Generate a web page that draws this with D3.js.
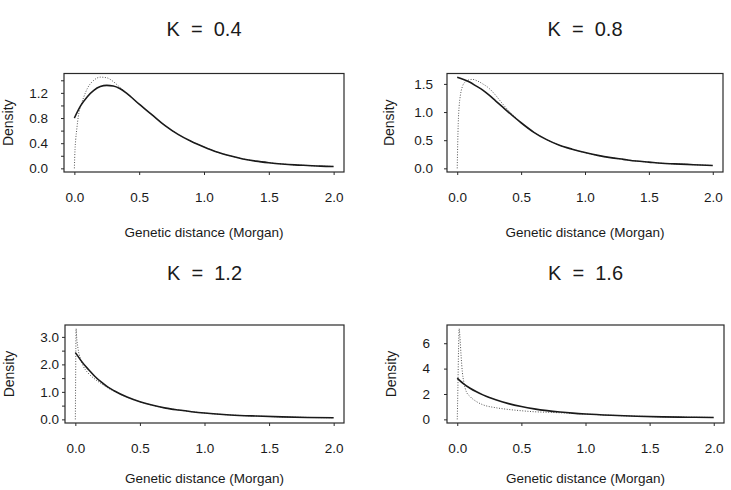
<!DOCTYPE html>
<html>
<head>
<meta charset="utf-8">
<script src="https://cdn.jsdelivr.net/npm/d3@7"></script>
<style>
	body { margin: 0; background: #fff; }
	svg { display: block; font-family: "Liberation Sans", Arial, Helvetica, sans-serif; }
	.tick text { font-size: 13.5px; fill: #1a1a1a; }
	.tick line { stroke: #2a2a2a; }
</style>
</head>
<body>
<svg id="chart" width="731" height="490"></svg>
<script>

// panel titles
var kLabels = ['0.4', '0.8', '1.2', '1.6'];

// shared x ticks (Morgan)
var xTicks = [0, 0.5, 1.0, 1.5, 2.0];

// K = 0.4
var solidX1 = [0, 0.05, 0.1, 0.15, 0.2, 0.25, 0.3, 0.35, 0.4, 0.5, 0.6, 0.7, 0.8, 0.9, 1.0, 1.1, 1.2, 1.3, 1.4, 1.5, 1.6, 1.7, 1.8, 1.9, 2.0];
var solidY1 = [0.80, 1.00, 1.14, 1.24, 1.30, 1.32, 1.31, 1.27, 1.20, 1.02, 0.85, 0.68, 0.54, 0.43, 0.34, 0.26, 0.20, 0.15, 0.115, 0.09, 0.07, 0.055, 0.045, 0.035, 0.03];
var dotX1 = [0, 0.005, 0.01, 0.02, 0.03, 0.04, 0.05, 0.07, 0.1, 0.15, 0.2, 0.25, 0.3, 0.35, 0.4, 0.45, 0.5, 0.6, 0.7, 0.8, 0.9, 1.0, 1.1, 1.2, 1.3, 1.4, 1.5, 1.6, 1.7, 1.8, 1.9, 2.0];
var dotY1 = [0, 0.30, 0.45, 0.65, 0.82, 0.93, 1.00, 1.12, 1.27, 1.40, 1.45, 1.44, 1.38, 1.29, 1.20, 1.11, 1.02, 0.85, 0.68, 0.54, 0.43, 0.34, 0.26, 0.20, 0.15, 0.115, 0.09, 0.07, 0.055, 0.045, 0.035, 0.03];
var yTicks1 = [0, 0.2, 0.4, 0.6, 0.8, 1.0, 1.2, 1.4];
var yLabels1 = [0, 0.4, 0.8, 1.2];

// K = 0.8
var solidX2 = [0, 0.05, 0.1, 0.15, 0.2, 0.25, 0.3, 0.35, 0.4, 0.5, 0.6, 0.7, 0.8, 0.9, 1.0, 1.1, 1.2, 1.3, 1.4, 1.5, 1.6, 1.7, 1.8, 1.9, 2.0];
var solidY2 = [1.62, 1.58, 1.53, 1.46, 1.39, 1.30, 1.20, 1.10, 1.00, 0.81, 0.64, 0.51, 0.41, 0.34, 0.28, 0.23, 0.19, 0.16, 0.13, 0.11, 0.09, 0.08, 0.07, 0.06, 0.05];
var dotX2 = [0, 0.004, 0.008, 0.015, 0.025, 0.04, 0.06, 0.09, 0.12, 0.16, 0.2, 0.25, 0.3, 0.35, 0.4, 0.45, 0.5, 0.6, 0.7, 0.8, 0.9, 1.0, 1.1, 1.2, 1.3, 1.4, 1.5, 1.6, 1.7, 1.8, 1.9, 2.0];
var dotY2 = [0, 0.45, 0.80, 1.10, 1.30, 1.45, 1.53, 1.57, 1.58, 1.55, 1.50, 1.42, 1.30, 1.16, 1.03, 0.92, 0.81, 0.64, 0.51, 0.41, 0.34, 0.28, 0.23, 0.19, 0.16, 0.13, 0.11, 0.09, 0.08, 0.07, 0.06, 0.05];
var yTicks2 = [0, 0.5, 1.0, 1.5];
var yLabels2 = [0, 0.5, 1.0, 1.5];

// K = 1.2
var solidX3 = [0, 0.02, 0.05, 0.1, 0.15, 0.2, 0.25, 0.3, 0.4, 0.5, 0.6, 0.7, 0.8, 0.9, 1.0, 1.2, 1.4, 1.6, 1.8, 2.0];
var solidY3 = [2.43, 2.30, 2.10, 1.82, 1.57, 1.36, 1.18, 1.04, 0.81, 0.64, 0.51, 0.41, 0.34, 0.28, 0.23, 0.16, 0.12, 0.09, 0.07, 0.06];
var dotX3 = [0, 0.002, 0.004, 0.006, 0.01, 0.02, 0.04, 0.06, 0.1, 0.15, 0.2, 0.25, 0.3, 0.4, 0.5, 0.6, 0.7, 0.8, 0.9, 1.0, 1.2, 1.4, 1.6, 1.8, 2.0];
var dotY3 = [0, 1.20, 2.60, 3.30, 3.00, 2.60, 2.20, 1.95, 1.68, 1.47, 1.30, 1.15, 1.02, 0.81, 0.64, 0.51, 0.41, 0.34, 0.28, 0.23, 0.16, 0.12, 0.09, 0.07, 0.06];
var yTicks3 = [0, 0.5, 1.0, 1.5, 2.0, 2.5, 3.0];
var yLabels3 = [0, 1.0, 2.0, 3.0];

// K = 1.6
var solidX4 = [0, 0.02, 0.05, 0.1, 0.15, 0.2, 0.25, 0.3, 0.4, 0.5, 0.6, 0.7, 0.8, 0.9, 1.0, 1.2, 1.4, 1.6, 1.8, 2.0];
var solidY4 = [3.25, 3.05, 2.80, 2.45, 2.17, 1.93, 1.72, 1.54, 1.24, 1.01, 0.83, 0.69, 0.58, 0.49, 0.42, 0.32, 0.25, 0.20, 0.17, 0.15];
var dotX4 = [0, 0.005, 0.01, 0.015, 0.02, 0.03, 0.04, 0.05, 0.07, 0.1, 0.15, 0.2, 0.3, 0.4, 0.5, 0.6, 0.7, 0.8, 0.9, 1.0, 1.2, 1.4, 1.6, 1.8, 2.0];
var dotY4 = [0, 2.50, 5.50, 7.15, 6.60, 5.00, 3.70, 3.00, 2.20, 1.80, 1.40, 1.15, 0.92, 0.78, 0.68, 0.60, 0.56, 0.52, 0.47, 0.42, 0.32, 0.25, 0.20, 0.17, 0.15];
var yTicks4 = [0, 2, 4, 6];
var yLabels4 = [0, 2, 4, 6];

var svg = d3.select('#chart');

// where each panel sits on the page
var panels = [
	{ k: kLabels[0], sx: solidX1, sy: solidY1, dx: dotX1, dy: dotY1, ticks: yTicks1, labels: yLabels1, fmt: d3.format('.1f'),
		box: [64, 73.5, 344, 172], yPad: 13, ylabX: 12.5, titleY: 36, xTickPad: 17.5, xTitleY: 236.5 },
	{ k: kLabels[1], sx: solidX2, sy: solidY2, dx: dotX2, dy: dotY2, ticks: yTicks2, labels: yLabels2, fmt: d3.format('.1f'),
		box: [447, 73.5, 723, 172], yPad: 11, ylabX: 394, titleY: 36, xTickPad: 17, xTitleY: 236.5 },
	{ k: kLabels[2], sx: solidX3, sy: solidY3, dx: dotX3, dy: dotY3, ticks: yTicks3, labels: yLabels3, fmt: d3.format('.1f'),
		box: [65, 325, 344, 423], yPad: 3, ylabX: 14, titleY: 280, xTickPad: 17.5, xTitleY: 483 },
	{ k: kLabels[3], sx: solidX4, sy: solidY4, dx: dotX4, dy: dotY4, ticks: yTicks4, labels: yLabels4, fmt: d3.format('d'),
		box: [447, 325, 724, 423], yPad: 14, ylabX: 396, titleY: 280, xTickPad: 17, xTitleY: 483 }
];

panels.forEach(function (p) {
	var x0 = p.box[0], y0 = p.box[1], x1 = p.box[2], y1 = p.box[3];
	var cx = (x0 + x1) / 2, cy = (y0 + y1) / 2;

	// R style 4% padding around the data range
	var ymax = Math.max(d3.max(p.sy), d3.max(p.dy));
	var x = d3.scaleLinear().domain([-0.08, 2.08]).range([x0, x1]);
	var y = d3.scaleLinear().domain([-0.04 * ymax, 1.04 * ymax]).range([y1, y0]);

	var g = svg.append('g');

	g.append('text')
		.attr('x', cx)
		.attr('y', p.titleY)
		.attr('text-anchor', 'middle')
		.style('font-size', '20px')
		.style('white-space', 'pre')
		.attr('xml:space', 'preserve')
		.attr('fill', '#1a1a1a')
		.text('K  =  ' + p.k);

	var line = d3.line()
		.x(function (d) { return x(d[0]); })
		.y(function (d) { return y(d[1]); })
		.curve(d3.curveMonotoneX);

	g.append('path')
		.datum(d3.zip(p.dx, p.dy))
		.attr('d', line)
		.attr('fill', 'none')
		.attr('stroke', '#555')
		.attr('stroke-width', 1)
		.attr('stroke-dasharray', '1,1.6');

	g.append('path')
		.datum(d3.zip(p.sx, p.sy))
		.attr('d', line)
		.attr('fill', 'none')
		.attr('stroke', '#1a1a1a')
		.attr('stroke-width', 1.6);

	var yAxis = g.append('g')
		.attr('transform', 'translate(' + x0 + ',0)')
		.call(d3.axisLeft(y)
			.tickValues(p.ticks)
			.tickSize(3)
			.tickPadding(p.yPad)
			.tickFormat(function (d) { return p.labels.indexOf(d) >= 0 ? p.fmt(d) : ''; }));
	yAxis.select('.domain').remove();

	var xAxis = g.append('g')
		.attr('transform', 'translate(0,' + y1 + ')')
		.call(d3.axisBottom(x)
			.tickValues(xTicks)
			.tickSize(3)
			.tickPadding(p.xTickPad)
			.tickFormat(d3.format('.1f')));
	xAxis.select('.domain').remove();

	g.append('rect')
		.attr('x', x0)
		.attr('y', y0)
		.attr('width', x1 - x0)
		.attr('height', y1 - y0)
		.attr('fill', 'none')
		.attr('stroke', '#2a2a2a')
		.attr('stroke-width', 1.2);

	g.append('text')
		.attr('transform', 'translate(' + p.ylabX + ',' + cy + ') rotate(-90)')
		.attr('text-anchor', 'middle')
		.style('font-size', '14px')
		.attr('fill', '#1a1a1a')
		.text('Density');

	g.append('text')
		.attr('x', cx)
		.attr('y', p.xTitleY)
		.attr('text-anchor', 'middle')
		.style('font-size', '13.5px')
		.attr('fill', '#1a1a1a')
		.text('Genetic distance (Morgan)');
});

</script>
</body>
</html>
